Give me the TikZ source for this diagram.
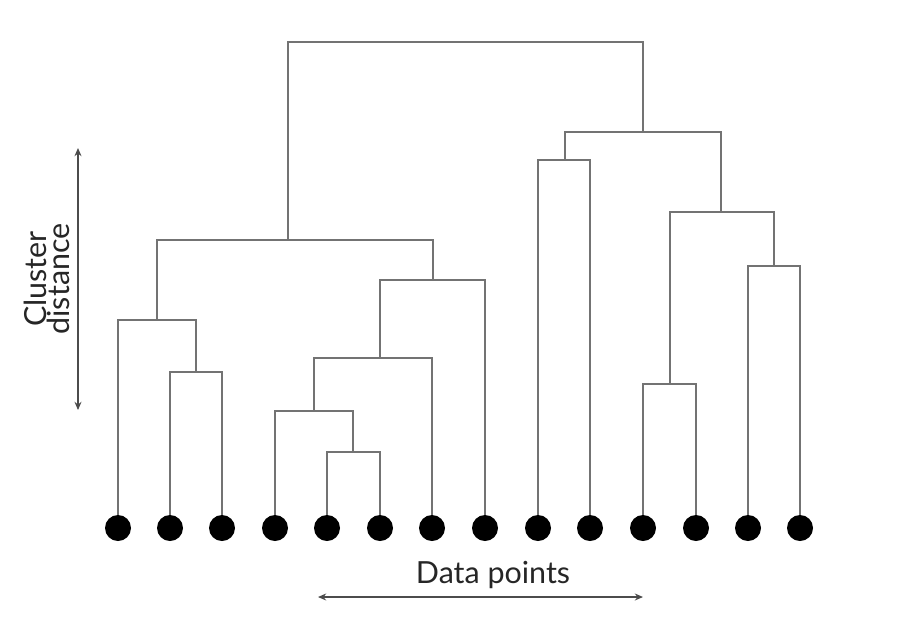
\documentclass[tikz,border=0pt]{standalone}
\usepackage{fontspec}
\setmainfont{Lato}
\usetikzlibrary{arrows.meta}
\tikzset{
  leaf/.style={circle,fill=black,inner sep=0pt,minimum size=26\px},
  link/.style={draw=black!55,line width=1.5pt},
  axisarrow/.style={draw=black!70,line width=1pt,{Stealth[length=7pt,width=6pt]}-{Stealth[length=7pt,width=6pt]}},
  lbl/.style={font=\fontsize{26}{26}\selectfont,text=black!85,align=center,inner sep=0pt}
}
\newlength{\px}
\setlength{\px}{0.03cm}
\begin{document}
\begin{tikzpicture}[x=0.03cm,y=-0.03cm]
\useasboundingbox (0,0) rectangle (910,630);
% leaves
\foreach \i/\x in {1/118,2/170,3/222,4/275,5/327,6/380,7/432,8/485,9/538,10/590,11/643,12/696,13/748,14/800}
  \node[leaf] (l\i) at (\x,528) {};
% joins
\coordinate (j23) at (196,372);
\coordinate (j123) at (157,320);
\coordinate (j56) at (353,452);
\coordinate (j456) at (314,411);
\coordinate (j4567) at (380,358);
\coordinate (jB) at (433,280);
\coordinate (jL) at (288,240);
\coordinate (j910) at (565,160);
\coordinate (j1112) at (670,384);
\coordinate (j1314) at (774,266);
\coordinate (jR2) at (721,212);
\coordinate (jR) at (643,132);
\coordinate (jT) at (465,42);
% links
\draw[link] (l2) |- (j23) -| (l3);
\draw[link] (l1) |- (j123) -| (j23);
\draw[link] (l5) |- (j56) -| (l6);
\draw[link] (l4) |- (j456) -| (j56);
\draw[link] (j456) |- (j4567) -| (l7);
\draw[link] (j4567) |- (jB) -| (l8);
\draw[link] (j123) |- (jL) -| (jB);
\draw[link] (l9) |- (j910) -| (l10);
\draw[link] (l11) |- (j1112) -| (l12);
\draw[link] (l13) |- (j1314) -| (l14);
\draw[link] (j1112) |- (jR2) -| (j1314);
\draw[link] (j910) |- (jR) -| (jR2);
\draw[link] (jL) |- (jT) -| (jR);
% axes
\coordinate (ya) at (78,148);
\coordinate (yb) at (78,410);
\draw[axisarrow] (ya) -- (yb);
\node[lbl,rotate=90] (yl) at (47,279) {Cluster\\[-6pt]distance};
\coordinate (xa) at (318,597);
\coordinate (xb) at (643,597);
\draw[axisarrow] (xa) -- (xb);
\node[lbl] (xl) at (493,575) {Data points};
\end{tikzpicture}
\end{document}
